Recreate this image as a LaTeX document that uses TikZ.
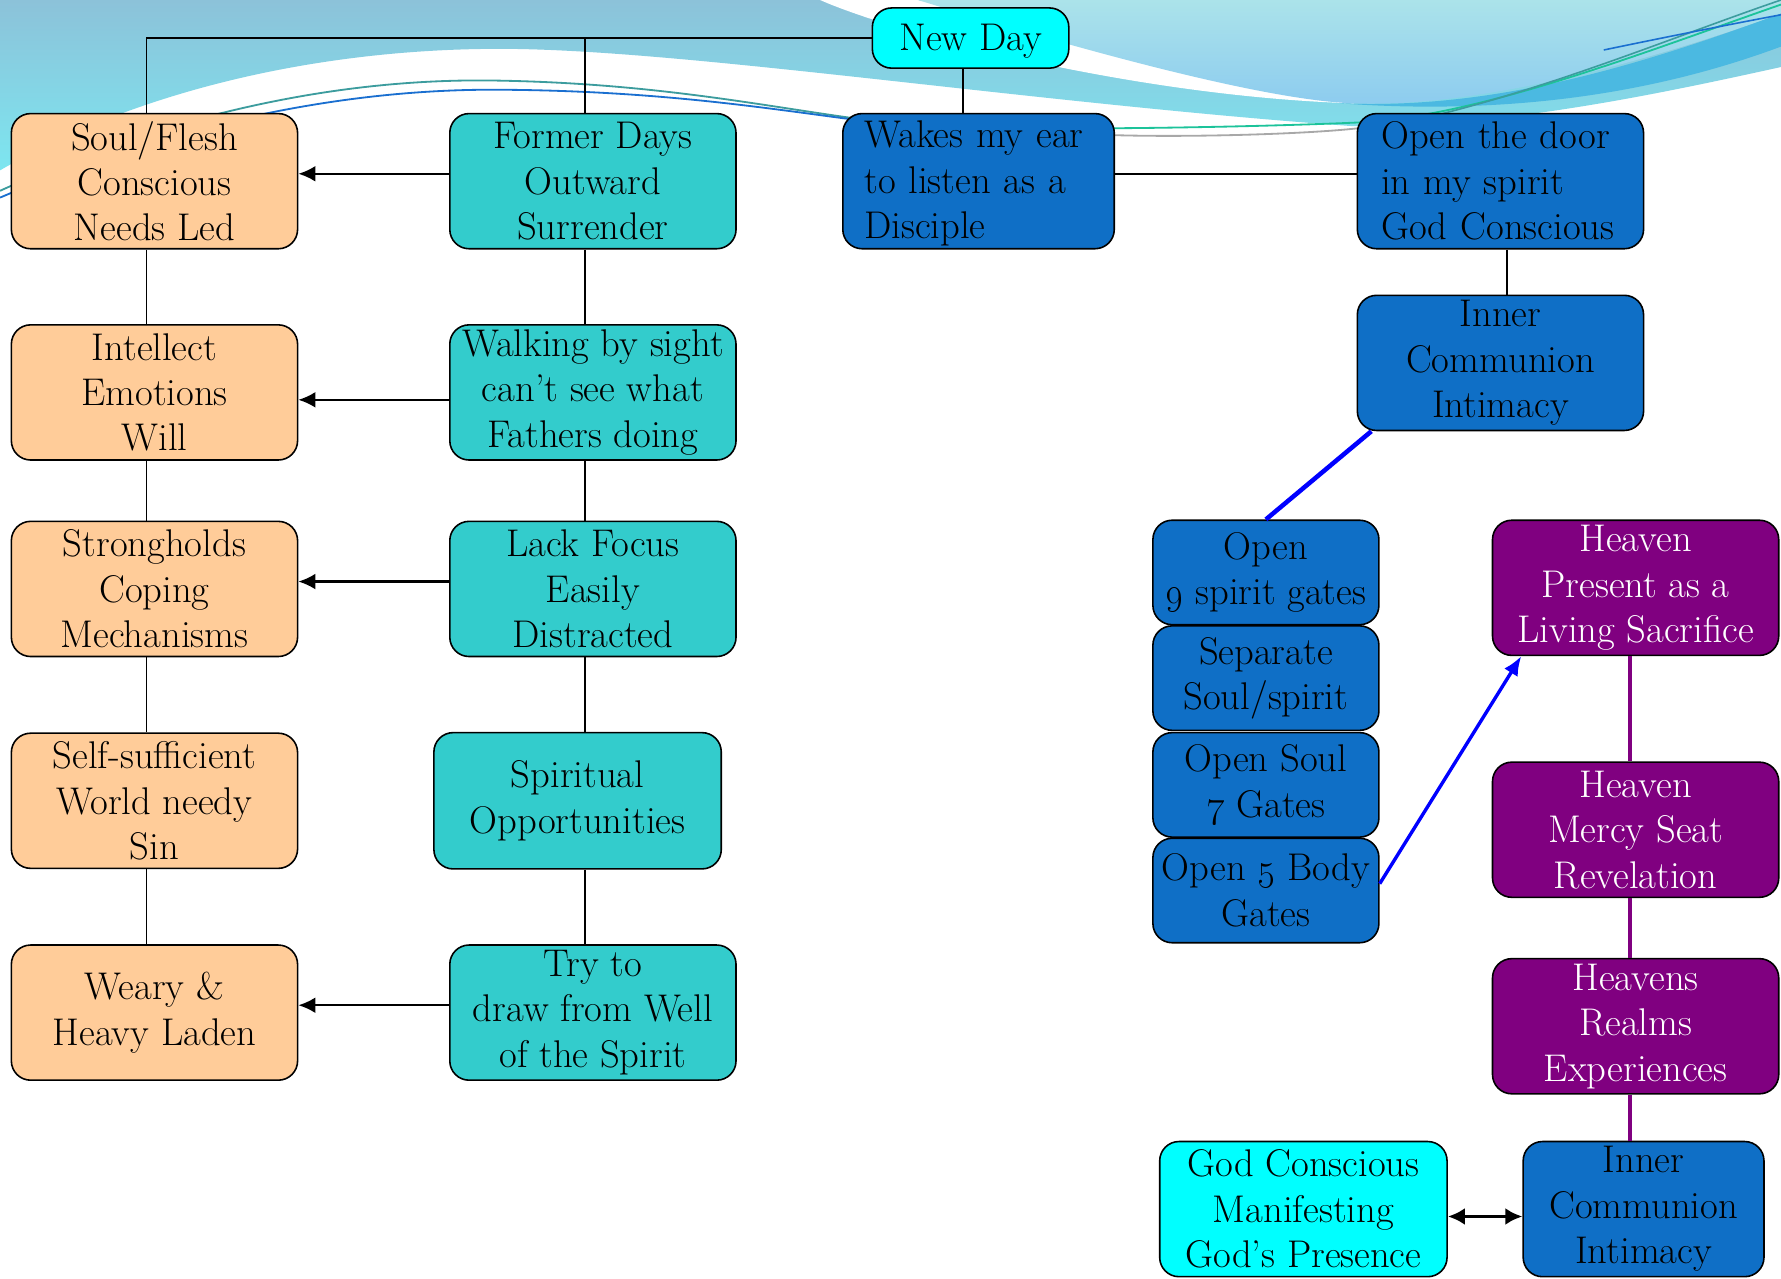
\RequirePackage{fix-cm}
\documentclass[tikz,border=0pt]{standalone}
\usetikzlibrary{arrows.meta}
\definecolor{orangebox}{HTML}{FFCC99}
\definecolor{tealbox}{HTML}{33CCCC}
\definecolor{bluebox}{HTML}{0F6FC6}
\definecolor{purplebox}{HTML}{800080}
\definecolor{cyanbox}{HTML}{00FFFF}
\definecolor{bgtop}{HTML}{8CC2D9}
\definecolor{bgcyan}{HTML}{7DE6F0}
\definecolor{bgright}{HTML}{ABE3EA}
\definecolor{bgrightlow}{HTML}{8CCBEF}
\definecolor{streakblue}{HTML}{4BB9E1}
\definecolor{lineteal}{HTML}{3C9C9E}
\definecolor{linegreen}{HTML}{1CC39A}
\definecolor{lineblue}{HTML}{1A6FD0}
\definecolor{linegray}{HTML}{A8A8A8}
\tikzset{
  box/.style={draw=black, line width=1.4pt, rounded corners=17pt, align=center,
    inner sep=2pt, font=\fontsize{34}{40}\selectfont, text=black},
  obox/.style={box, fill=orangebox, minimum width=252pt, minimum height=119pt},
  tbox/.style={box, fill=tealbox, minimum width=252pt, minimum height=119pt},
  bbox/.style={box, fill=bluebox, minimum width=252pt, minimum height=119pt},
  sbox/.style={box, fill=bluebox, minimum width=199pt, minimum height=92pt},
  pbox/.style={box, fill=purplebox, text=white, minimum width=252pt, minimum height=119pt},
  cbox/.style={box, fill=cyanbox, minimum width=253pt, minimum height=119pt},
  conn/.style={draw=black, line width=1.4pt},
  larrow/.style={draw=black, line width=2pt, -{Latex[length=15pt,width=14pt]}},
  bluelink/.style={draw=blue, line width=4pt},
  bluearrow/.style={draw=blue, line width=3pt, -{Latex[length=17pt,width=14pt]}},
  purplelink/.style={draw=purplebox, line width=4pt},
  dblarrow/.style={draw=black, line width=3pt, {Latex[length=15pt,width=15pt]}-{Latex[length=15pt,width=15pt]}},
}
\begin{document}
\begin{tikzpicture}[x=1pt,y=-1pt]
\useasboundingbox (0,0) rectangle (1568,1126);
\fill[white] (0,0) rectangle (1568,1126);
% background waves
\shade[top color=bgtop, bottom color=bgcyan]
  (0,0) -- (0,150) .. controls (120,80) and (280,43) .. (440,43)
  .. controls (600,43) and (900,90) .. (1190,111)
  .. controls (1320,112) and (1450,85) .. (1568,59) -- (1568,0) -- cycle;
\fill[white] (722,0) .. controls (790,30) and (1000,85) .. (1192,91) -- (1192,80) -- (808,0) -- cycle;
\shade[top color=bgright, bottom color=bgrightlow]
  (808,0) .. controls (900,28) and (1100,88) .. (1192,91)
  .. controls (1300,95) and (1450,55) .. (1568,12) -- (1568,0) -- cycle;
\fill[streakblue] (1180,91) .. controls (1320,97) and (1450,55) .. (1568,12)
  -- (1568,41) .. controls (1450,85) and (1320,101) .. (1180,91) -- cycle;
\draw[lineteal, line width=1.6pt] (0,168) .. controls (150,100) and (300,68) .. (440,71)
  .. controls (600,74) and (700,100) .. (800,110);
\draw[lineblue, line width=1.6pt] (0,174) .. controls (150,110) and (300,78) .. (440,79)
  .. controls (600,80) and (700,100) .. (790,110);
\draw[linegreen, line width=1.6pt] (800,110) .. controls (900,116) and (1100,112) .. (1192,108)
  .. controls (1300,104) and (1450,45) .. (1568,4);
\draw[linegray, line width=1.6pt] (981,119) .. controls (1050,121) and (1150,118) .. (1195,113);
\draw[lineteal, line width=1.4pt] (1270,100) .. controls (1380,72) and (1480,30) .. (1568,0);
\draw[lineblue, line width=1.4pt] (1412,44) .. controls (1460,34) and (1520,22) .. (1568,13);
% nodes
\node[box, fill=cyanbox, minimum width=173pt, minimum height=53pt] (newday) at (854.5,33.5) {\rule{0pt}{28pt}New Day};
\node[obox] (soul) at (136,159.5) {Soul/Flesh\\Conscious\\Needs Led};
\node[obox] (intel) at (136,345.5) {Intellect\\Emotions\\Will};
\node[obox] (strong) at (136,518.5) {Strongholds\\Coping\\Mechanisms};
\node[obox] (self) at (136,705) {Self-sufficient\\World needy\\Sin};
\node[obox] (weary) at (136,891.5) {Weary \&\\Heavy Laden};
\node[tbox] (former) at (522,159.5) {Former Days\\Outward\\Surrender};
\node[tbox] (walking) at (522,345.5) {Walking by sight\\can’t see what\\Fathers doing};
\node[tbox] (lack) at (522,518.5) {Lack Focus\\Easily\\Distracted};
\node[tbox, minimum width=253pt, minimum height=120pt] (spirit) at (508.5,705) {Spiritual\\Opportunities};
\node[tbox] (try) at (522,891.5) {Try to\\draw from Well\\of the Spirit};
\node[bbox, minimum width=239pt, align=left, inner xsep=19pt, text width=201pt] (wakes) at (861.5,159.5) {\rule{0pt}{28pt}Wakes my ear\\to listen as a\\Disciple};
\node[bbox, align=left, inner xsep=21pt, text width=210pt] (door) at (1321,159.5) {Open the door\\in my spirit\\God Conscious};
\node[bbox] (inner1) at (1321,319.5) {Inner\\Communion\\Intimacy};
\node[sbox] (gates9) at (1114.5,504) {Open\\\oldstylenums{9} spirit gates};
\node[sbox] (sep) at (1114.5,597) {Separate\\Soul/spirit};
\node[sbox] (soul7) at (1114.5,691) {Open Soul\\\oldstylenums{7} Gates};
\node[sbox] (body5) at (1114.5,784) {Open \oldstylenums{5} Body\\Gates};
\node[pbox] (hpresent) at (1440,517.5) {Heaven\\Present as a\\Living Sacrifice};
\node[pbox] (hmercy) at (1440,730.5) {Heaven\\Mercy Seat\\Revelation};
\node[pbox] (hrealms) at (1440,903.5) {Heavens\\Realms\\Experiences};
\node[bbox, minimum width=212pt] (inner2) at (1447,1064.5) {Inner\\Communion\\Intimacy};
\node[cbox] (godc) at (1147.5,1064.5) {God Conscious\\Manifesting\\God’s Presence};
% connectors
\draw[conn] (newday.west) -| ([xshift=-7pt]soul.north);
\draw[conn] ([xshift=-7pt]former.north) -- ([xshift=-7pt]former.north |- newday.west);
\draw[conn] ([xshift=-6.5pt]newday.south) -- ([xshift=-6.5pt]newday.south |- wakes.north);
\draw[conn] ([xshift=-7pt]soul.south) -- ([xshift=-7pt]intel.north);
\draw[conn] ([xshift=-7pt]intel.south) -- ([xshift=-7pt]strong.north);
\draw[conn] ([xshift=-7pt]strong.south) -- ([xshift=-7pt]self.north);
\draw[conn] ([xshift=-7pt]self.south) -- ([xshift=-7pt]weary.north);
\draw[conn] ([xshift=-7pt]former.south) -- ([xshift=-7pt]walking.north);
\draw[conn] ([xshift=-7pt]walking.south) -- ([xshift=-7pt]lack.north);
\draw[conn] ([xshift=-7pt]lack.south) -- ([xshift=-7pt]lack.south |- spirit.north);
\draw[conn] ([xshift=-7pt]spirit.south -| lack.south) -- ([xshift=-7pt]try.north);
\draw[larrow] ([yshift=6.5pt]former.west) -- ([yshift=6.5pt]soul.east);
\draw[larrow] ([yshift=-6.5pt]walking.west) -- ([yshift=-6.5pt]intel.east);
\draw[larrow] ([yshift=6.5pt]lack.west) -- ([yshift=6.5pt]strong.east);
\draw[larrow] ([yshift=6.5pt]try.west) -- ([yshift=6.5pt]weary.east);
\draw[conn] ([yshift=6.5pt]wakes.east) -- ([yshift=6.5pt]door.west);
\draw[conn] ([xshift=6pt]door.south) -- ([xshift=6pt]inner1.north);
\draw[bluelink] ([xshift=13pt]inner1.south west) -- (gates9.north);
\draw[bluearrow] ([yshift=6pt]body5.east) -- ([xshift=26pt]hpresent.south west);
\draw[purplelink] ([xshift=-5pt]hpresent.south) -- ([xshift=-5pt]hmercy.north);
\draw[purplelink] ([xshift=-5pt]hmercy.south) -- ([xshift=-5pt]hrealms.north);
\draw[purplelink] ([xshift=-5pt]hrealms.south) -- ([xshift=-5pt]hrealms.south |- inner2.north);
\draw[dblarrow] ([yshift=-6.5pt]godc.east) -- ([yshift=-6.5pt]inner2.west);
\end{tikzpicture}
\end{document}
